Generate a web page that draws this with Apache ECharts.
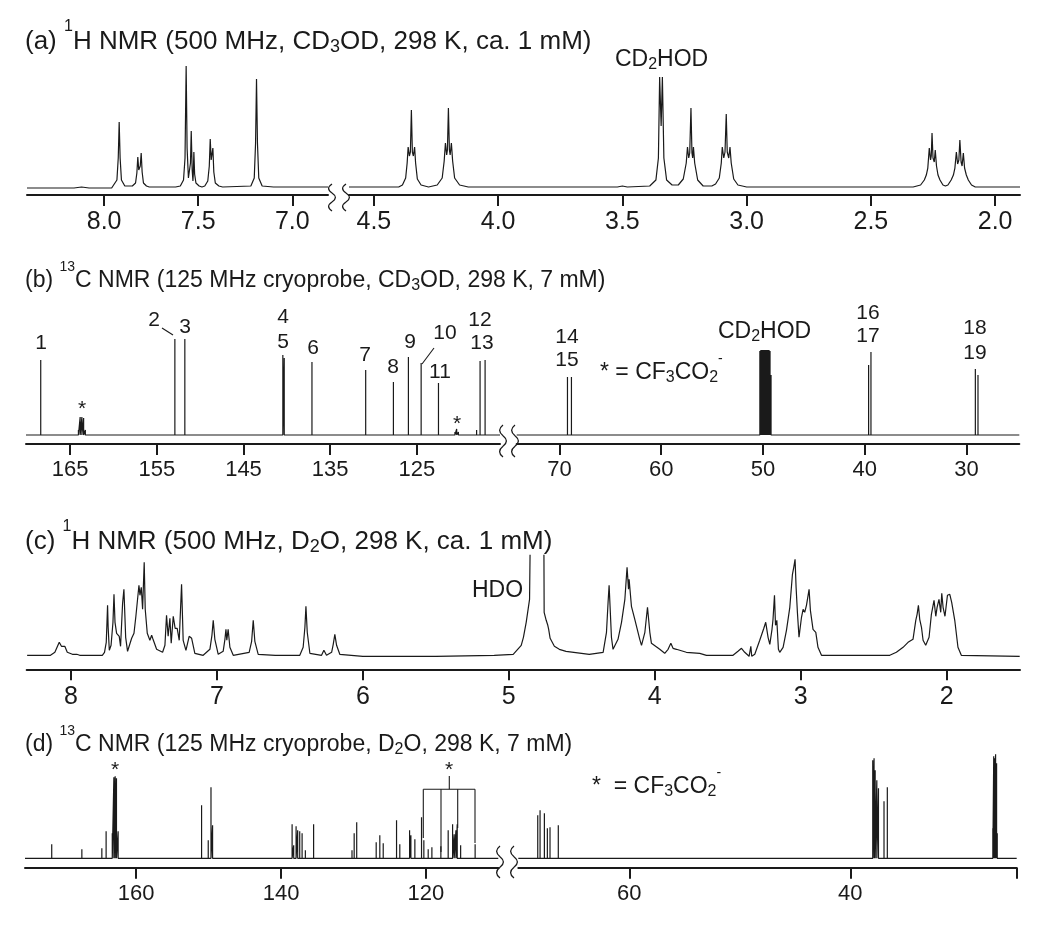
<!DOCTYPE html>
<html>
<head>
<meta charset="utf-8">
<script src="https://cdn.jsdelivr.net/npm/echarts@6/dist/echarts.min.js"></script>
<style>
  html, body { margin: 0; padding: 0; background: #fff; }
  #chart { width: 1050px; height: 926px; }
</style>
</head>
<body>
<div id="chart"></div>
<script>
// (a) 1H NMR, CD3OD - trace points [ppm, intensity]
const specA_aromatic = [
  [8.41,0],[8.16,0],[8.12,1],[8.08,0],[7.96,0],
  [7.95,2],[7.932,8],[7.925,30],[7.920,66],[7.915,30],[7.908,8],[7.89,2],
  [7.85,2],[7.833,5],[7.826,15],[7.821,31],[7.816,18],[7.812,19],[7.808,22],[7.803,35],[7.798,16],[7.791,5],[7.775,2],[7.76,1],
  [7.62,1],[7.595,2],[7.578,8],[7.570,30],[7.564,122],[7.559,40],[7.552,10],[7.546,8],[7.541,25],[7.537,57],[7.532,18],[7.528,7],[7.526,14],[7.523,36],[7.519,14],[7.512,5],[7.495,2],[7.48,1],
  [7.465,2],[7.449,7],[7.441,22],[7.436,49],[7.431,28],[7.428,30],[7.422,40],[7.417,16],[7.409,5],[7.39,2],[7.37,1],
  [7.22,2],[7.202,10],[7.195,45],[7.190,109],[7.185,45],[7.178,10],[7.16,2],[7.10,1],[6.81,1]
];
const specA_aliphatic = [
  [4.60,1],[4.40,1],[4.385,3],[4.372,10],[4.366,25],[4.362,41],[4.357,32],[4.353,36],[4.349,78],[4.345,36],[4.341,32],[4.336,41],[4.332,25],[4.325,9],[4.31,3],[4.28,1],
  [4.245,3],[4.225,10],[4.217,27],[4.212,45],[4.207,33],[4.204,38],[4.200,80],[4.196,38],[4.193,33],[4.188,45],[4.183,27],[4.175,10],[4.155,3],[4.12,1],
  [3.52,1],[3.50,2],[3.48,1],
  [3.39,2],[3.365,8],[3.355,30],[3.350,111],[3.344,62],[3.339,111],[3.333,30],[3.322,8],[3.30,3],
  [3.275,3],[3.255,9],[3.243,25],[3.238,41],[3.233,30],[3.229,35],[3.224,80],[3.220,35],[3.217,30],[3.214,41],[3.209,25],[3.197,8],[3.175,2],
  [3.14,2],[3.125,4],[3.110,10],[3.102,25],[3.098,41],[3.092,30],[3.087,36],[3.082,74],[3.078,36],[3.072,30],[3.067,41],[3.062,25],[3.052,9],[3.035,3],[3.0,1],
  [2.33,1],[2.30,3],[2.285,8],[2.277,13],[2.271,20],[2.265,40],[2.260,28],[2.257,32],[2.254,55],[2.250,30],[2.245,26],[2.241,38],[2.236,22],[2.230,13],[2.222,8],[2.21,3],[2.20,2],
  [2.19,3],[2.177,8],[2.168,13],[2.162,20],[2.156,36],[2.151,24],[2.146,28],[2.142,48],[2.137,26],[2.133,22],[2.128,35],[2.123,20],[2.116,13],[2.108,8],[2.095,3],[2.08,1],
  [1.965,1],[1.96,3],[1.955,1],[1.90,1]
];
const ticksA_left = [8.0, 7.5, 7.0];
const ticksA_right = [4.5, 4.0, 3.5, 3.0, 2.5, 2.0];

// (b) 13C, CD3OD - peak list [ppm, height]
const peaksB_left = [
  [168.4,75],[164.05,5],[163.85,18],[163.65,18],[163.45,17],[163.25,5],
  [152.92,96],[151.77,96],[140.46,80],[140.30,77],[137.1,73],[130.9,65],[127.7,53],
  [125.97,78],[124.5,72],[122.5,52],[120.6,3],[120.4,6],[120.2,3],[118.1,5],[117.7,74],[117.12,75]
];
const peaksB_right = [
  [69.21,58],[68.82,58],
  [50.3,84],[50.2,85],[50.1,85],[50.0,85],[49.9,85],[49.8,85],[49.7,85],[49.6,85],[49.5,85],[49.4,85],[49.3,84],[49.2,60],
  [39.61,70],[39.38,83],[29.12,66],[28.86,60]
];
const ticksB_left = [165, 155, 145, 135, 125];
const ticksB_right = [70, 60, 50, 40, 30];

// (c) 1H NMR, D2O - trace points [ppm, intensity]
const specC = [
  [8.30,2],[8.14,2],[8.11,5],[8.095,10],[8.08,15],[8.065,11],[8.055,10],[8.042,11],[8.025,5],[7.99,3],[7.96,3],[7.94,2],[7.785,2],
  [7.77,5],[7.758,15],[7.753,35],[7.749,52],[7.745,30],[7.737,7],
  [7.725,12],[7.712,35],[7.705,63],[7.698,35],[7.687,24],[7.669,21],[7.660,11],[7.646,54],[7.637,68],[7.625,20],[7.612,6],
  [7.584,19],[7.568,24],[7.555,41],[7.534,72],[7.527,62],[7.518,70],[7.509,48],[7.498,95],[7.491,48],[7.477,24],[7.459,17],[7.447,22],[7.440,19],[7.432,21],[7.413,8],[7.372,5],
  [7.356,12],[7.345,42],[7.334,21],[7.322,39],[7.313,14],[7.299,41],[7.286,29],[7.272,29],[7.258,17],[7.242,73],[7.231,17],[7.212,7],[7.190,21],[7.173,19],[7.151,4],[7.094,2],
  [7.048,8],[7.034,22],[7.025,37],[7.014,18],[6.991,3],
  [6.957,6],[6.945,18],[6.938,28],[6.932,17],[6.923,28],[6.911,10],[6.888,2],
  [6.779,5],[6.762,16],[6.751,37],[6.740,16],[6.717,3],[6.60,2],[6.432,2],
  [6.409,10],[6.397,30],[6.390,51],[6.381,25],[6.363,4],
  [6.283,2],[6.267,7],[6.249,2],
  [6.214,5],[6.203,13],[6.192,23],[6.180,12],[6.158,3],[6.0,1],[5.5,1],[5.1,2],
  [4.970,3],[4.915,12],[4.900,20],[4.881,35],[4.858,58],[4.847,200],[4.762,200],[4.758,45],[4.744,37],[4.733,32],[4.727,28],[4.717,19],[4.688,11],[4.654,8],[4.608,6],[4.449,3],
  [4.354,5],[4.331,25],[4.320,55],[4.313,72],[4.304,43],[4.297,20],[4.286,8],
  [4.252,18],[4.228,35],[4.205,58],[4.190,90],[4.180,68],[4.176,78],[4.160,51],[4.137,38],[4.103,18],[4.091,12],
  [4.068,25],[4.050,50],[4.034,25],[4.023,14],[3.966,8],[3.932,4],
  [3.909,8],[3.890,14],[3.875,9],[3.852,8],[3.784,5],[3.692,4],[3.646,2],[3.464,2],
  [3.430,6],[3.406,9],[3.384,5],[3.354,1],[3.342,11],[3.336,1],[3.315,3],
  [3.281,17],[3.253,29],[3.240,35],[3.224,20],[3.212,13],[3.197,28],[3.190,38],[3.180,62],[3.173,32],[3.164,37],[3.153,8],[3.144,5],
  [3.121,10],[3.098,27],[3.075,50],[3.057,83],[3.048,90],[3.039,98],[3.032,70],[3.023,45],[3.012,20],[2.995,40],[2.984,48],[2.973,45],[2.961,52],[2.943,68],[2.934,47],[2.916,28],[2.897,25],[2.882,10],[2.858,2],
  [2.390,2],[2.345,5],[2.299,10],[2.265,15],[2.231,18],[2.212,37],[2.203,43],[2.194,52],[2.185,38],[2.173,30],[2.162,17],[2.144,12],
  [2.121,20],[2.105,43],[2.087,57],[2.075,41],[2.066,50],[2.053,58],[2.041,45],[2.034,64],[2.025,50],[2.012,41],[1.995,62],[1.979,63],[1.966,55],[1.945,37],[1.923,10],[1.900,2],[1.50,1]
];
const ticksC = [8, 7, 6, 5, 4, 3, 2];

// (d) 13C, D2O - peak list [ppm, height]
const peaksD_left = [
  [171.66,14],[167.5,9],[164.74,10],[164.15,27],[163.3,25],[163.08,81],[162.9,82],[162.72,80],[162.49,27],
  [150.97,53],[150.05,18],[149.67,71],[149.45,33],
  [138.47,34],[138.25,13],[137.92,32],[137.7,28],[137.42,27],[137.09,25],[136.64,8],[135.5,34],
  [130.2,8],[129.9,25],[129.55,36],[126.86,16],[126.36,23],[125.89,15],[124.05,38],[123.6,14],
  [122.25,28],[122.07,23],[121.52,19],[120.6,41],[120.28,18],[119.68,9],[119.17,11],[117.93,12],
  [116.92,28],[116.31,34],[116.09,24],[115.85,28],[115.67,34],[115.2,13],[113.2,14]
];
const peaksD_right = [
  [68.29,43],[68.08,48],[67.69,45],[67.42,30],[67.18,31],[66.43,33],
  [37.97,98],[37.85,100],[37.75,88],[37.6,78],[37.45,70],[36.95,57],[36.65,71],
  [27.1,30],[27.02,102],[26.93,100],[26.85,104],[26.76,95],[26.7,25]
];
const ticksD_left = [160, 140, 120];
const ticksD_right = [60, 40];

const FONT = '"Liberation Sans", Arial, Helvetica, sans-serif';
const INK = '#1a1a1a';

// stick spectrum: baseline with a vertical line at every peak
function sticks(peaks, hi, lo) {
  const pts = [[hi, 0]];
  peaks.forEach(([p, h]) => { pts.push([p, 0], [p, h], [p, 0]); });
  pts.push([lo, 0]);
  return pts;
}

const segments = [
  { data: specA_aromatic, left: 27, width: 301, axisY: 195, gap: 7, ymax: 130, min: 6.81, max: 8.41, ticks: ticksA_left, digits: 1, fs: 25 },
  { data: specA_aliphatic, left: 349, width: 671, axisY: 195, gap: 7, ymax: 130, min: 1.90, max: 4.60, ticks: ticksA_right, digits: 1, fs: 25 },
  { data: sticks(peaksB_left, 170.1, 115.4), left: 26, width: 474, axisY: 444, gap: 9, ymax: 100, min: 115.4, max: 170.1, ticks: ticksB_left, digits: 0, fs: 22 },
  { data: sticks(peaksB_right, 74.2, 24.8), left: 516.7, width: 502.6, axisY: 444, gap: 9, ymax: 100, min: 24.8, max: 74.2, ticks: ticksB_right, digits: 0, fs: 22 },
  { data: specC, left: 26.7, width: 993.3, axisY: 669.3, gap: 12, ymax: 102, min: 1.498, max: 8.303, ticks: ticksC, digits: 0, fs: 25 },
  { data: sticks(peaksD_left, 175.35, 110.0), left: 25, width: 473.3, axisY: 867.7, gap: 9.4, ymax: 110, min: 110.0, max: 175.35, ticks: ticksD_left, digits: 0, fs: 22 },
  { data: sticks(peaksD_right, 70.05, 24.94), left: 518.3, width: 498.4, axisY: 867.7, gap: 9.4, ymax: 110, min: 24.94, max: 70.05, ticks: ticksD_right, endTick: 24.94, digits: 0, fs: 22 }
];

const grid = [], xAxis = [], yAxis = [], series = [];
segments.forEach((s, i) => {
  const h = s.ymax + s.gap;
  grid.push({ left: s.left, top: s.axisY - h, width: s.width, height: h });
  xAxis.push({
    type: 'value', gridIndex: i, inverse: true, min: s.min, max: s.max,
    axisLine: { onZero: false, lineStyle: { color: INK, width: 2 } },
    axisTick: { show: true, length: 11, lineStyle: { color: INK, width: 2 },
      customValues: s.endTick ? s.ticks.concat([s.endTick]) : s.ticks },
    axisLabel: { customValues: s.ticks, fontSize: s.fs, fontFamily: FONT, color: INK, margin: 15,
      formatter: v => v.toFixed(s.digits) },
    splitLine: { show: false }
  });
  yAxis.push({ type: 'value', gridIndex: i, min: -s.gap, max: s.ymax, show: false });
  series.push({
    type: 'line', xAxisIndex: i, yAxisIndex: i, data: s.data,
    symbol: 'none', silent: true, clip: true,
    lineStyle: { color: INK, width: 1.2 }
  });
});

function richFor(fs) {
  return {
    sup: { fontSize: Math.round(fs * 0.62), fontFamily: FONT, fill: INK, lineHeight: Math.round(fs * 0.62), verticalAlign: 'top' },
    sub: { fontSize: Math.round(fs * 0.68), fontFamily: FONT, fill: INK, lineHeight: Math.round(fs * 0.68), verticalAlign: 'bottom', padding: [0, 0, Math.round(fs * 0.33), 0] }
  };
}
function title(y, text, fs) {
  return { type: 'text', x: 25, y, style: { text, fontSize: fs, fontFamily: FONT, fill: INK, lineHeight: Math.round(fs * 1.8),
    align: 'left', verticalAlign: 'middle', rich: richFor(fs) } };
}
function label(x, y, text, align, fs) {
  fs = fs || 21;
  return { type: 'text', x, y, style: { text, fontSize: fs, fontFamily: FONT, fill: INK, lineHeight: Math.round(fs * 1.8),
    align: align || 'center', verticalAlign: 'middle', rich: richFor(fs) } };
}
// break mark: a vertical wavy line made of three cubic half-waves
function wave(cx, y0, h) {
  const a = 4.5, k = h / 3, out = [];
  for (let j = 0; j < 3; j++) {
    const sgn = j % 2 ? 1 : -1, ya = y0 + j * k;
    out.push({ type: 'bezierCurve',
      shape: { x1: cx, y1: ya, x2: cx, y2: ya + k, cpx1: cx + sgn * a, cpy1: ya + k / 3, cpx2: cx + sgn * a, cpy2: ya + 2 * k / 3 },
      style: { fill: null, stroke: INK, lineWidth: 1.3 } });
  }
  return out;
}
function seg(x1, y1, x2, y2) {
  return { type: 'line', shape: { x1, y1, x2, y2 }, style: { stroke: INK, lineWidth: 1.1 } };
}

const graphics = [
  title(42, '(a) {sup|1}H NMR (500 MHz, CD{sub|3}OD, 298 K, ca. 1 mM)', 26),
  title(281, '(b) {sup|13}C NMR (125 MHz cryoprobe, CD{sub|3}OD, 298 K, 7 mM)', 23),
  title(542, '(c) {sup|1}H NMR (500 MHz, D{sub|2}O, 298 K, ca. 1 mM)', 26),
  title(745, '(d) {sup|13}C NMR (125 MHz cryoprobe, D{sub|2}O, 298 K, 7 mM)', 23),

  label(615, 60, 'CD{sub|2}HOD', 'left', 23),

  label(41, 343, '1'), label(82, 409, '*'),
  label(154, 320, '2'), label(185, 327, '3'), seg(162, 328, 173, 335),
  label(283, 317, '4'), label(283, 342, '5'), label(313, 348, '6'),
  label(365, 355, '7'), label(393, 367, '8'), label(410, 342, '9'),
  label(445, 333, '10'), seg(434, 348, 422, 364), label(440, 372, '11'),
  label(457, 424, '*'),
  label(480, 320, '12'), label(482, 343, '13'),
  label(567, 337, '14'), label(567, 360, '15'),
  label(600, 373, '* = CF{sub|3}CO{sub|2}{sup|-}', 'left', 23),
  label(718, 332, 'CD{sub|2}HOD', 'left', 23),
  label(868, 313, '16'), label(868, 336, '17'),
  label(975, 328, '18'), label(975, 353, '19'),

  label(472, 591, 'HDO', 'left', 23),

  label(115, 770, '*'), label(449, 770, '*'),
  seg(449.3, 776, 449.3, 789.3), seg(423.3, 789.3, 475, 789.3),
  seg(423.3, 789.3, 423.3, 838), seg(441, 789.3, 441, 852),
  seg(457.7, 789.3, 457.7, 828), seg(475, 789.3, 475, 843),
  label(592, 787, '*  = CF{sub|3}CO{sub|2}{sup|-}', 'left', 23)
].concat(
  wave(332, 184, 27), wave(346, 184, 27),
  wave(503, 425, 32), wave(515, 425, 32),
  wave(500, 846, 32), wave(514, 846, 32)
);

const chart = echarts.init(document.getElementById('chart'));
chart.setOption({
  animation: false,
  backgroundColor: '#fff',
  grid, xAxis, yAxis, series,
  graphic: { elements: graphics }
});
</script>
</body>
</html>
